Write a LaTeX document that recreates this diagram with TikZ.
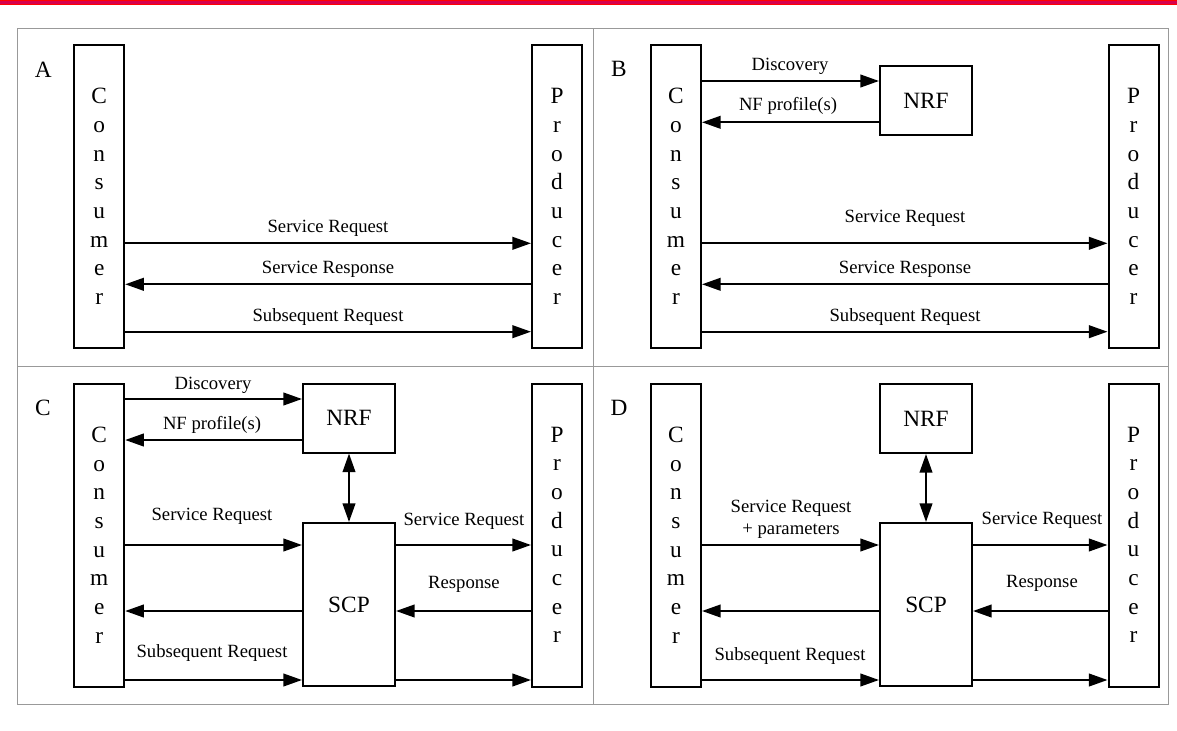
\documentclass[tikz,border=0pt]{standalone}
\usepackage{fontspec}
\setmainfont{Liberation Serif}
\usetikzlibrary{arrows.meta}
\newcommand\lanefont{\fontsize{17.5}{21.5}\selectfont}
\newcommand\msgfont{\fontsize{14}{17}\selectfont}
\definecolor{barred}{RGB}{255,0,0}
\definecolor{barcrimson}{RGB}{215,0,75}
\begin{document}
\begin{tikzpicture}[x=0.75pt,y=-0.75pt,
  frame/.style={draw=gray!80, line width=0.75pt},
  box/.style={draw=black, line width=1.5pt, inner sep=0pt, align=center, font=\lanefont},
  pxsize/.style 2 args={minimum width=#1*0.75pt, minimum height=#2*0.75pt},
  lane/.style={box, pxsize={50}{303}},
  fnbox/.style={box, pxsize={92}{69}},
  proxy/.style={box, pxsize={92}{163}},
  tip/.tip={Triangle[length=14pt,width=9.5pt]},
  msg/.style={line width=1.5pt, -tip},
  both/.style={line width=1.5pt, tip-tip},
  lbl/.style={inner sep=0pt, font=\msgfont, align=center},
  tag/.style={inner sep=0pt, font=\lanefont}
]
\useasboundingbox (0,0) rectangle (1177,731);

% top colour bar
\fill[barred] (0,0) rectangle (1177,5);
\fill[barcrimson] (0,1.3) rectangle (1177,3.7);

% four-panel frame
\draw[frame] (17.7,28.3) rectangle (1168.3,704.3);
\draw[frame] (593.3,28.3) -- (593.3,704.3);
\draw[frame] (17.7,366) -- (1168.3,366);

% message levels
\coordinate (yDisTop) at (0,81);
\coordinate (yNfTop) at (0,122.3);
\coordinate (yReqTop) at (0,243.3);
\coordinate (yRspTop) at (0,284.3);
\coordinate (ySubTop) at (0,331.7);
\coordinate (yDisBot) at (0,399);
\coordinate (yNfBot) at (0,440);
\coordinate (yReqBot) at (0,545);
\coordinate (yRspBot) at (0,611);
\coordinate (ySubBot) at (0,680);

% ---------- A: direct communication ----------
\node[tag] (tagA) at (43.3,70) {A};
\node[lane] (consA) at (99.2,196.5) {C\\o\\n\\s\\u\\m\\e\\r};
\node[lane] (prodA) at (557,196.5) {P\\r\\o\\d\\u\\c\\e\\r};
\draw[msg] (consA.east |- yReqTop) -- (prodA.west |- yReqTop);
\draw[msg] (prodA.west |- yRspTop) -- (consA.east |- yRspTop);
\draw[msg] (consA.east |- ySubTop) -- (prodA.west |- ySubTop);
\node[lbl] (lA1) at (328,228) {Service Request};
\node[lbl] (lA2) at (328,269) {Service Response};
\node[lbl] (lA3) at (328,316.7) {Subsequent Request};

% ---------- B: discovery via NRF ----------
\node[tag] (tagB) at (619,69) {B};
\node[lane] (consB) at (676,196.5) {C\\o\\n\\s\\u\\m\\e\\r};
\node[lane] (prodB) at (1133.5,196.5) {P\\r\\o\\d\\u\\c\\e\\r};
\node[fnbox] (nrfB) at (926,100.5) {NRF};
\draw[msg] (consB.east |- yDisTop) -- (nrfB.west |- yDisTop);
\draw[msg] (nrfB.west |- yNfTop) -- (consB.east |- yNfTop);
\draw[msg] (consB.east |- yReqTop) -- (prodB.west |- yReqTop);
\draw[msg] (prodB.west |- yRspTop) -- (consB.east |- yRspTop);
\draw[msg] (consB.east |- ySubTop) -- (prodB.west |- ySubTop);
\node[lbl] (lB1) at (790,66.7) {Discovery};
\node[lbl] (lB2) at (788,106) {NF profile(s)};
\node[lbl] (lB3) at (905,218) {Service Request};
\node[lbl] (lB4) at (905,269) {Service Response};
\node[lbl] (lB5) at (905,316.7) {Subsequent Request};

% ---------- C: discovery, then routing through SCP ----------
\node[tag] (tagC) at (43,408) {C};
\node[lane] (consC) at (99.2,535) {C\\o\\n\\s\\u\\m\\e\\r};
\node[lane] (prodC) at (557,535) {P\\r\\o\\d\\u\\c\\e\\r};
\node[fnbox] (nrfC) at (349,418) {NRF};
\node[proxy] (scpC) at (349,604.5) {SCP};
\draw[msg] (consC.east |- yDisBot) -- (nrfC.west |- yDisBot);
\draw[msg] (nrfC.west |- yNfBot) -- (consC.east |- yNfBot);
\draw[both] (nrfC.south) -- (scpC.north);
\draw[msg] (consC.east |- yReqBot) -- (scpC.west |- yReqBot);
\draw[msg] (scpC.east |- yReqBot) -- (prodC.west |- yReqBot);
\draw[msg] (prodC.west |- yRspBot) -- (scpC.east |- yRspBot);
\draw[msg] (scpC.west |- yRspBot) -- (consC.east |- yRspBot);
\draw[msg] (consC.east |- ySubBot) -- (scpC.west |- ySubBot);
\draw[msg] (scpC.east |- ySubBot) -- (prodC.west |- ySubBot);
\node[lbl] (lC1) at (213,385) {Discovery};
\node[lbl] (lC2) at (212,425) {NF profile(s)};
\node[lbl] (lC3) at (212,516.7) {Service Request};
\node[lbl] (lC4) at (464,521.7) {Service Request};
\node[lbl] (lC5) at (464,584) {Response};
\node[lbl] (lC6) at (212,653) {Subsequent Request};

% ---------- D: delegated discovery by SCP ----------
\node[tag] (tagD) at (619,408) {D};
\node[lane] (consD) at (676,535) {C\\o\\n\\s\\u\\m\\e\\r};
\node[lane] (prodD) at (1133.5,535) {P\\r\\o\\d\\u\\c\\e\\r};
\node[fnbox] (nrfD) at (926,418.5) {NRF};
\node[proxy] (scpD) at (926,604.5) {SCP};
\draw[both] (nrfD.south) -- (scpD.north);
\draw[msg] (consD.east |- yReqBot) -- (scpD.west |- yReqBot);
\draw[msg] (scpD.east |- yReqBot) -- (prodD.west |- yReqBot);
\draw[msg] (prodD.west |- yRspBot) -- (scpD.east |- yRspBot);
\draw[msg] (scpD.west |- yRspBot) -- (consD.east |- yRspBot);
\draw[msg] (consD.east |- ySubBot) -- (scpD.west |- ySubBot);
\draw[msg] (scpD.east |- ySubBot) -- (prodD.west |- ySubBot);
\node[lbl] (lD1) at (791,519.3) {Service Request\\+ parameters};
\node[lbl] (lD2) at (1042,520) {Service Request};
\node[lbl] (lD3) at (1042,583) {Response};
\node[lbl] (lD4) at (790,655.7) {Subsequent Request};
\end{tikzpicture}
\end{document}
